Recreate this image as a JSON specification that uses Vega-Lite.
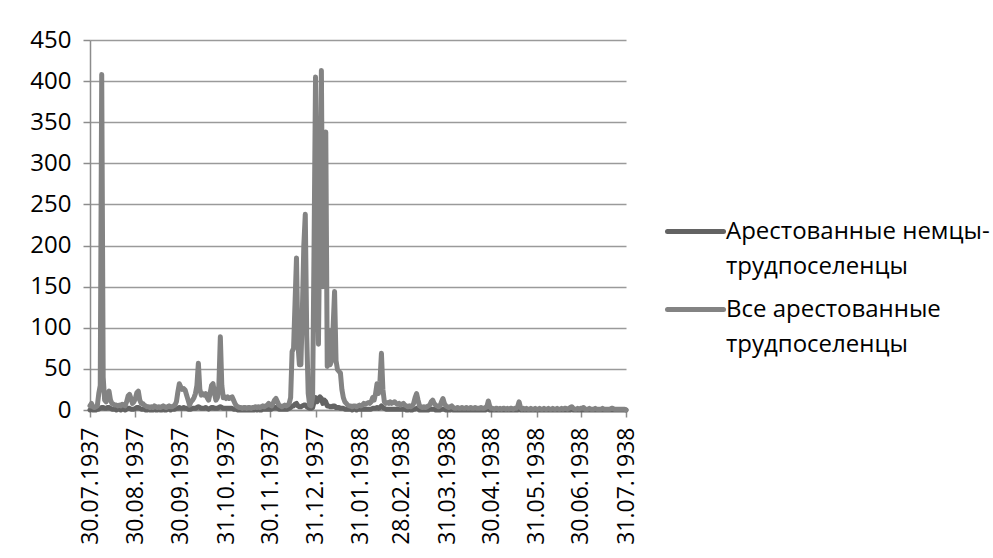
{
"$schema":"https://vega.github.io/schema/vega-lite/v6.json",
"width":536,"height":370,
"autosize":{"type":"none"},
"padding":{"left":90,"top":40,"right":367,"bottom":148},
"background":"white",
"config":{"view":{"stroke":null},"font":"Open Sans"},
"data":{"values":[
{"d":"1937-07-30","g":0,"a":5},{"d":"1937-07-31","g":1,"a":8},
{"d":"1937-08-01","g":0,"a":4},{"d":"1937-08-02","g":0,"a":3},{"d":"1937-08-03","g":0,"a":4},{"d":"1937-08-04","g":1,"a":5},{"d":"1937-08-05","g":1,"a":20},{"d":"1937-08-06","g":2,"a":30},{"d":"1937-08-07","g":3,"a":408},{"d":"1937-08-08","g":3,"a":40},{"d":"1937-08-09","g":2,"a":12},{"d":"1937-08-10","g":2,"a":10},{"d":"1937-08-11","g":3,"a":18},{"d":"1937-08-12","g":3,"a":23},{"d":"1937-08-13","g":2,"a":12},{"d":"1937-08-14","g":1,"a":8},{"d":"1937-08-15","g":1,"a":7},{"d":"1937-08-16","g":1,"a":6},{"d":"1937-08-17","g":0,"a":6},{"d":"1937-08-18","g":1,"a":5},{"d":"1937-08-19","g":1,"a":6},{"d":"1937-08-20","g":0,"a":5},{"d":"1937-08-21","g":1,"a":7},{"d":"1937-08-22","g":1,"a":6},{"d":"1937-08-23","g":0,"a":5},{"d":"1937-08-24","g":1,"a":10},{"d":"1937-08-25","g":2,"a":17},{"d":"1937-08-26","g":2,"a":19},{"d":"1937-08-27","g":1,"a":14},{"d":"1937-08-28","g":1,"a":8},{"d":"1937-08-29","g":1,"a":10},{"d":"1937-08-30","g":2,"a":14},{"d":"1937-08-31","g":3,"a":21},
{"d":"1937-09-01","g":3,"a":23},{"d":"1937-09-02","g":2,"a":12},{"d":"1937-09-03","g":1,"a":8},{"d":"1937-09-04","g":1,"a":8},{"d":"1937-09-05","g":1,"a":6},{"d":"1937-09-06","g":0,"a":5},{"d":"1937-09-07","g":0,"a":4},{"d":"1937-09-08","g":1,"a":4},{"d":"1937-09-09","g":0,"a":3},{"d":"1937-09-10","g":0,"a":4},{"d":"1937-09-11","g":0,"a":3},{"d":"1937-09-12","g":1,"a":5},{"d":"1937-09-13","g":0,"a":4},{"d":"1937-09-14","g":0,"a":3},{"d":"1937-09-15","g":1,"a":4},{"d":"1937-09-16","g":0,"a":3},{"d":"1937-09-17","g":0,"a":4},{"d":"1937-09-18","g":1,"a":5},{"d":"1937-09-19","g":0,"a":4},{"d":"1937-09-20","g":0,"a":3},{"d":"1937-09-21","g":1,"a":4},{"d":"1937-09-22","g":1,"a":5},{"d":"1937-09-23","g":0,"a":4},{"d":"1937-09-24","g":1,"a":4},{"d":"1937-09-25","g":1,"a":5},{"d":"1937-09-26","g":1,"a":6},{"d":"1937-09-27","g":2,"a":10},{"d":"1937-09-28","g":2,"a":22},{"d":"1937-09-29","g":3,"a":32},{"d":"1937-09-30","g":2,"a":28},
{"d":"1937-10-01","g":2,"a":25},{"d":"1937-10-02","g":3,"a":26},{"d":"1937-10-03","g":2,"a":24},{"d":"1937-10-04","g":2,"a":18},{"d":"1937-10-05","g":1,"a":12},{"d":"1937-10-06","g":1,"a":6},{"d":"1937-10-07","g":1,"a":10},{"d":"1937-10-08","g":2,"a":12},{"d":"1937-10-09","g":2,"a":15},{"d":"1937-10-10","g":2,"a":20},{"d":"1937-10-11","g":3,"a":30},{"d":"1937-10-12","g":4,"a":57},{"d":"1937-10-13","g":3,"a":25},{"d":"1937-10-14","g":2,"a":18},{"d":"1937-10-15","g":2,"a":20},{"d":"1937-10-16","g":2,"a":18},{"d":"1937-10-17","g":3,"a":20},{"d":"1937-10-18","g":2,"a":15},{"d":"1937-10-19","g":1,"a":12},{"d":"1937-10-20","g":2,"a":20},{"d":"1937-10-21","g":3,"a":30},{"d":"1937-10-22","g":3,"a":32},{"d":"1937-10-23","g":2,"a":20},{"d":"1937-10-24","g":2,"a":12},{"d":"1937-10-25","g":2,"a":15},{"d":"1937-10-26","g":3,"a":30},{"d":"1937-10-27","g":4,"a":89},{"d":"1937-10-28","g":3,"a":30},{"d":"1937-10-29","g":2,"a":15},{"d":"1937-10-30","g":2,"a":16},{"d":"1937-10-31","g":2,"a":14},
{"d":"1937-11-01","g":2,"a":16},{"d":"1937-11-02","g":2,"a":14},{"d":"1937-11-03","g":2,"a":15},{"d":"1937-11-04","g":2,"a":16},{"d":"1937-11-05","g":1,"a":12},{"d":"1937-11-06","g":1,"a":8},{"d":"1937-11-07","g":1,"a":5},{"d":"1937-11-08","g":0,"a":4},{"d":"1937-11-09","g":0,"a":3},{"d":"1937-11-10","g":0,"a":3},{"d":"1937-11-11","g":0,"a":2},{"d":"1937-11-12","g":0,"a":3},{"d":"1937-11-13","g":0,"a":3},{"d":"1937-11-14","g":0,"a":2},{"d":"1937-11-15","g":0,"a":3},{"d":"1937-11-16","g":0,"a":3},{"d":"1937-11-17","g":0,"a":2},{"d":"1937-11-18","g":0,"a":3},{"d":"1937-11-19","g":0,"a":3},{"d":"1937-11-20","g":1,"a":4},{"d":"1937-11-21","g":0,"a":3},{"d":"1937-11-22","g":1,"a":4},{"d":"1937-11-23","g":0,"a":3},{"d":"1937-11-24","g":0,"a":4},{"d":"1937-11-25","g":1,"a":5},{"d":"1937-11-26","g":1,"a":4},{"d":"1937-11-27","g":1,"a":5},{"d":"1937-11-28","g":1,"a":6},{"d":"1937-11-29","g":1,"a":8},{"d":"1937-11-30","g":1,"a":6},
{"d":"1937-12-01","g":1,"a":5},{"d":"1937-12-02","g":2,"a":8},{"d":"1937-12-03","g":3,"a":12},{"d":"1937-12-04","g":3,"a":14},{"d":"1937-12-05","g":2,"a":10},{"d":"1937-12-06","g":1,"a":6},{"d":"1937-12-07","g":1,"a":5},{"d":"1937-12-08","g":1,"a":4},{"d":"1937-12-09","g":1,"a":5},{"d":"1937-12-10","g":1,"a":6},{"d":"1937-12-11","g":1,"a":5},{"d":"1937-12-12","g":1,"a":6},{"d":"1937-12-13","g":2,"a":8},{"d":"1937-12-14","g":3,"a":15},{"d":"1937-12-15","g":5,"a":71},{"d":"1937-12-16","g":5,"a":75},{"d":"1937-12-17","g":7,"a":130},{"d":"1937-12-18","g":8,"a":185},{"d":"1937-12-19","g":5,"a":80},{"d":"1937-12-20","g":4,"a":55},{"d":"1937-12-21","g":4,"a":55},{"d":"1937-12-22","g":5,"a":120},{"d":"1937-12-23","g":6,"a":200},{"d":"1937-12-24","g":6,"a":238},{"d":"1937-12-25","g":4,"a":90},{"d":"1937-12-26","g":3,"a":20},{"d":"1937-12-27","g":2,"a":6},{"d":"1937-12-28","g":2,"a":5},{"d":"1937-12-29","g":3,"a":15},{"d":"1937-12-30","g":10,"a":200},{"d":"1937-12-31","g":15,"a":405},
{"d":"1938-01-01","g":10,"a":200},{"d":"1938-01-02","g":12,"a":80},{"d":"1938-01-03","g":16,"a":250},{"d":"1938-01-04","g":14,"a":413},{"d":"1938-01-05","g":8,"a":150},{"d":"1938-01-06","g":12,"a":300},{"d":"1938-01-07","g":10,"a":338},{"d":"1938-01-08","g":5,"a":53},{"d":"1938-01-09","g":5,"a":97},{"d":"1938-01-10","g":4,"a":55},{"d":"1938-01-11","g":4,"a":60},{"d":"1938-01-12","g":5,"a":100},{"d":"1938-01-13","g":5,"a":144},{"d":"1938-01-14","g":3,"a":60},{"d":"1938-01-15","g":3,"a":49},{"d":"1938-01-16","g":3,"a":47},{"d":"1938-01-17","g":2,"a":45},{"d":"1938-01-18","g":2,"a":25},{"d":"1938-01-19","g":2,"a":15},{"d":"1938-01-20","g":1,"a":10},{"d":"1938-01-21","g":1,"a":8},{"d":"1938-01-22","g":1,"a":6},{"d":"1938-01-23","g":1,"a":5},{"d":"1938-01-24","g":1,"a":5},{"d":"1938-01-25","g":0,"a":4},{"d":"1938-01-26","g":1,"a":5},{"d":"1938-01-27","g":1,"a":5},{"d":"1938-01-28","g":0,"a":4},{"d":"1938-01-29","g":1,"a":5},{"d":"1938-01-30","g":1,"a":6},{"d":"1938-01-31","g":1,"a":5},
{"d":"1938-02-01","g":1,"a":6},{"d":"1938-02-02","g":1,"a":8},{"d":"1938-02-03","g":1,"a":7},{"d":"1938-02-04","g":1,"a":8},{"d":"1938-02-05","g":1,"a":9},{"d":"1938-02-06","g":1,"a":8},{"d":"1938-02-07","g":1,"a":10},{"d":"1938-02-08","g":2,"a":15},{"d":"1938-02-09","g":2,"a":12},{"d":"1938-02-10","g":2,"a":20},{"d":"1938-02-11","g":3,"a":32},{"d":"1938-02-12","g":2,"a":20},{"d":"1938-02-13","g":3,"a":35},{"d":"1938-02-14","g":5,"a":69},{"d":"1938-02-15","g":3,"a":25},{"d":"1938-02-16","g":2,"a":10},{"d":"1938-02-17","g":1,"a":8},{"d":"1938-02-18","g":1,"a":9},{"d":"1938-02-19","g":1,"a":8},{"d":"1938-02-20","g":1,"a":10},{"d":"1938-02-21","g":1,"a":8},{"d":"1938-02-22","g":1,"a":9},{"d":"1938-02-23","g":1,"a":10},{"d":"1938-02-24","g":1,"a":8},{"d":"1938-02-25","g":1,"a":7},{"d":"1938-02-26","g":1,"a":8},{"d":"1938-02-27","g":1,"a":6},{"d":"1938-02-28","g":1,"a":7},
{"d":"1938-03-01","g":1,"a":8},{"d":"1938-03-02","g":1,"a":6},{"d":"1938-03-03","g":0,"a":5},{"d":"1938-03-04","g":0,"a":4},{"d":"1938-03-05","g":1,"a":5},{"d":"1938-03-06","g":0,"a":4},{"d":"1938-03-07","g":0,"a":5},{"d":"1938-03-08","g":1,"a":8},{"d":"1938-03-09","g":1,"a":15},{"d":"1938-03-10","g":2,"a":20},{"d":"1938-03-11","g":1,"a":12},{"d":"1938-03-12","g":0,"a":5},{"d":"1938-03-13","g":0,"a":4},{"d":"1938-03-14","g":0,"a":3},{"d":"1938-03-15","g":0,"a":4},{"d":"1938-03-16","g":0,"a":3},{"d":"1938-03-17","g":0,"a":4},{"d":"1938-03-18","g":0,"a":5},{"d":"1938-03-19","g":1,"a":6},{"d":"1938-03-20","g":1,"a":10},{"d":"1938-03-21","g":1,"a":12},{"d":"1938-03-22","g":1,"a":8},{"d":"1938-03-23","g":0,"a":6},{"d":"1938-03-24","g":0,"a":5},{"d":"1938-03-25","g":0,"a":4},{"d":"1938-03-26","g":0,"a":5},{"d":"1938-03-27","g":1,"a":10},{"d":"1938-03-28","g":1,"a":14},{"d":"1938-03-29","g":1,"a":8},{"d":"1938-03-30","g":0,"a":5},{"d":"1938-03-31","g":0,"a":4},
{"d":"1938-04-01","g":0,"a":3},{"d":"1938-04-02","g":0,"a":4},{"d":"1938-04-03","g":1,"a":5},{"d":"1938-04-04","g":0,"a":3},{"d":"1938-04-05","g":0,"a":2},{"d":"1938-04-06","g":0,"a":2},{"d":"1938-04-07","g":0,"a":3},{"d":"1938-04-08","g":0,"a":2},{"d":"1938-04-09","g":0,"a":2},{"d":"1938-04-10","g":0,"a":3},{"d":"1938-04-11","g":0,"a":2},{"d":"1938-04-12","g":0,"a":2},{"d":"1938-04-13","g":0,"a":3},{"d":"1938-04-14","g":0,"a":2},{"d":"1938-04-15","g":0,"a":2},{"d":"1938-04-16","g":0,"a":3},{"d":"1938-04-17","g":0,"a":2},{"d":"1938-04-18","g":0,"a":2},{"d":"1938-04-19","g":0,"a":3},{"d":"1938-04-20","g":0,"a":2},{"d":"1938-04-21","g":0,"a":2},{"d":"1938-04-22","g":0,"a":2},{"d":"1938-04-23","g":0,"a":3},{"d":"1938-04-24","g":0,"a":2},{"d":"1938-04-25","g":0,"a":2},{"d":"1938-04-26","g":0,"a":3},{"d":"1938-04-27","g":1,"a":4},{"d":"1938-04-28","g":1,"a":11},{"d":"1938-04-29","g":0,"a":4},{"d":"1938-04-30","g":0,"a":2},
{"d":"1938-05-01","g":0,"a":2},{"d":"1938-05-02","g":0,"a":1},{"d":"1938-05-03","g":0,"a":2},{"d":"1938-05-04","g":0,"a":2},{"d":"1938-05-05","g":0,"a":1},{"d":"1938-05-06","g":0,"a":2},{"d":"1938-05-07","g":0,"a":1},{"d":"1938-05-08","g":0,"a":2},{"d":"1938-05-09","g":0,"a":2},{"d":"1938-05-10","g":0,"a":1},{"d":"1938-05-11","g":0,"a":2},{"d":"1938-05-12","g":0,"a":1},{"d":"1938-05-13","g":0,"a":2},{"d":"1938-05-14","g":0,"a":2},{"d":"1938-05-15","g":0,"a":1},{"d":"1938-05-16","g":0,"a":2},{"d":"1938-05-17","g":0,"a":2},{"d":"1938-05-18","g":0,"a":4},{"d":"1938-05-19","g":1,"a":10},{"d":"1938-05-20","g":0,"a":3},{"d":"1938-05-21","g":0,"a":1},{"d":"1938-05-22","g":0,"a":2},{"d":"1938-05-23","g":0,"a":1},{"d":"1938-05-24","g":0,"a":2},{"d":"1938-05-25","g":0,"a":1},{"d":"1938-05-26","g":0,"a":1},{"d":"1938-05-27","g":0,"a":2},{"d":"1938-05-28","g":0,"a":1},{"d":"1938-05-29","g":0,"a":1},{"d":"1938-05-30","g":0,"a":2},{"d":"1938-05-31","g":0,"a":1},
{"d":"1938-06-01","g":0,"a":1},{"d":"1938-06-02","g":0,"a":2},{"d":"1938-06-03","g":0,"a":1},{"d":"1938-06-04","g":0,"a":1},{"d":"1938-06-05","g":0,"a":2},{"d":"1938-06-06","g":0,"a":1},{"d":"1938-06-07","g":0,"a":1},{"d":"1938-06-08","g":0,"a":2},{"d":"1938-06-09","g":0,"a":1},{"d":"1938-06-10","g":0,"a":1},{"d":"1938-06-11","g":0,"a":2},{"d":"1938-06-12","g":0,"a":1},{"d":"1938-06-13","g":0,"a":1},{"d":"1938-06-14","g":0,"a":2},{"d":"1938-06-15","g":0,"a":1},{"d":"1938-06-16","g":0,"a":1},{"d":"1938-06-17","g":0,"a":2},{"d":"1938-06-18","g":0,"a":1},{"d":"1938-06-19","g":0,"a":2},{"d":"1938-06-20","g":0,"a":2},{"d":"1938-06-21","g":0,"a":1},{"d":"1938-06-22","g":0,"a":2},{"d":"1938-06-23","g":0,"a":3},{"d":"1938-06-24","g":1,"a":4},{"d":"1938-06-25","g":0,"a":2},{"d":"1938-06-26","g":0,"a":1},{"d":"1938-06-27","g":0,"a":1},{"d":"1938-06-28","g":0,"a":2},{"d":"1938-06-29","g":0,"a":1},{"d":"1938-06-30","g":0,"a":2},
{"d":"1938-07-01","g":0,"a":2},{"d":"1938-07-02","g":0,"a":3},{"d":"1938-07-03","g":0,"a":1},{"d":"1938-07-04","g":0,"a":1},{"d":"1938-07-05","g":0,"a":1},{"d":"1938-07-06","g":0,"a":2},{"d":"1938-07-07","g":0,"a":1},{"d":"1938-07-08","g":0,"a":1},{"d":"1938-07-09","g":0,"a":1},{"d":"1938-07-10","g":0,"a":2},{"d":"1938-07-11","g":0,"a":1},{"d":"1938-07-12","g":0,"a":1},{"d":"1938-07-13","g":0,"a":1},{"d":"1938-07-14","g":0,"a":1},{"d":"1938-07-15","g":0,"a":2},{"d":"1938-07-16","g":0,"a":1},{"d":"1938-07-17","g":0,"a":1},{"d":"1938-07-18","g":0,"a":1},{"d":"1938-07-19","g":0,"a":1},{"d":"1938-07-20","g":0,"a":1},{"d":"1938-07-21","g":0,"a":2},{"d":"1938-07-22","g":0,"a":2},{"d":"1938-07-23","g":0,"a":1},{"d":"1938-07-24","g":0,"a":1},{"d":"1938-07-25","g":0,"a":1},{"d":"1938-07-26","g":0,"a":1},{"d":"1938-07-27","g":0,"a":1},{"d":"1938-07-28","g":0,"a":1},{"d":"1938-07-29","g":0,"a":1},{"d":"1938-07-30","g":0,"a":1},{"d":"1938-07-31","g":0,"a":0}
]},
"transform":[{"fold":["g","a"],"as":["key","value"]}],
"mark":{"type":"line","strokeWidth":5,"strokeCap":"round","strokeJoin":"round"},
"encoding":{
"x":{"field":"d","type":"temporal",
 "scale":{"type":"utc","domain":[{"year":1937,"month":7,"date":30,"utc":true},{"year":1938,"month":7,"date":31,"utc":true}]},
 "axis":{"title":null,"grid":false,"labelExpr":"utcFormat(datum.value, '%d.%m.%Y')","labelAngle":-90,"labelFontSize":23,"labelFont":"Open Sans","labelColor":"#000000","tickSize":7,"labelPadding":10,"domainColor":"#8c8c8c","domainWidth":1.5,"tickColor":"#8c8c8c","tickWidth":1.5,"labelOverlap":false,"labelBound":false,"labelFlush":false,
  "values":[{"year":1937,"month":7,"date":30,"utc":true},{"year":1937,"month":8,"date":30,"utc":true},{"year":1937,"month":9,"date":30,"utc":true},{"year":1937,"month":10,"date":31,"utc":true},{"year":1937,"month":11,"date":30,"utc":true},{"year":1937,"month":12,"date":31,"utc":true},{"year":1938,"month":1,"date":31,"utc":true},{"year":1938,"month":2,"date":28,"utc":true},{"year":1938,"month":3,"date":31,"utc":true},{"year":1938,"month":4,"date":30,"utc":true},{"year":1938,"month":5,"date":31,"utc":true},{"year":1938,"month":6,"date":30,"utc":true},{"year":1938,"month":7,"date":31,"utc":true}]}},
"y":{"field":"value","type":"quantitative","scale":{"domain":[0,450],"nice":false},
 "axis":{"title":null,"values":[0,50,100,150,200,250,300,350,400,450],"labelFontSize":24,"labelFont":"Open Sans","labelColor":"#000000","tickSize":7,"labelPadding":12,"domainColor":"#8c8c8c","domainWidth":1.5,"tickColor":"#8c8c8c","tickWidth":1.5,"gridColor":"#9a9a9a","gridWidth":1.5,"labelOverlap":false,"labelBound":false,"labelFlush":false}},
"color":{"field":"key","type":"nominal","scale":{"domain":["g","a"],"range":["#636363","#838383"]},
 "legend":{"orient":"none","legendX":575,"legendY":161,"title":null,"symbolType":"stroke","symbolSize":3136,"symbolStrokeWidth":5,"labelFontSize":24,"labelFont":"Open Sans","labelColor":"#000000","labelOffset":0,"labelLimit":0,"rowPadding":-3,"padding":0,
  "labelExpr":"datum.label == 'g' ? ['Арестованные немцы-', 'трудпоселенцы'] : ['Все арестованные', 'трудпоселенцы']",
  "encode":{"labels":{"update":{"lineHeight":{"value":35}}},"symbols":{"update":{"strokeCap":{"value":"round"}}}}}}
}
}
